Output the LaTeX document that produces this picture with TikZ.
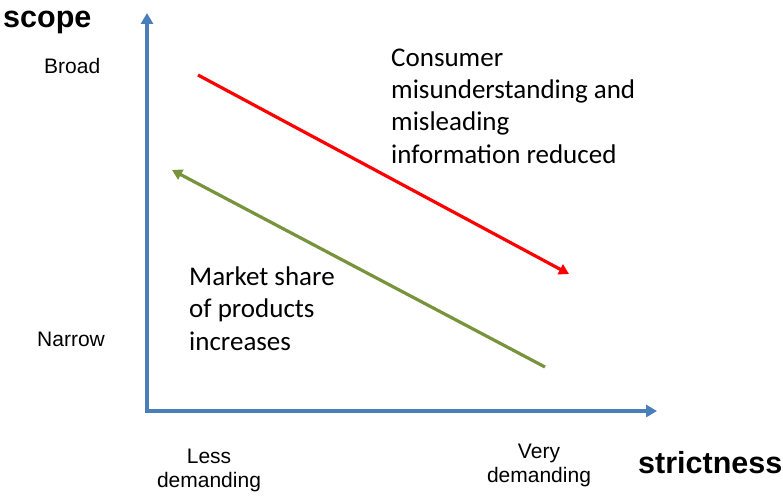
\documentclass[tikz,border=0pt]{standalone}
\usepackage{fontspec}
\setmainfont{Liberation Sans}
\newfontfamily\calfont{Carlito}
\usetikzlibrary{arrows.meta}
\definecolor{axisblue}{HTML}{4A7EBB}
\definecolor{arrowgreen}{HTML}{77933C}
\definecolor{arrowred}{HTML}{FF0000}
\tikzset{
  axisline/.style={draw=axisblue, line width=3.5pt, {Triangle[length=11pt,width=12pt]}-{Triangle[length=11pt,width=12pt]}},
  trendarrow/.style={line width=3.2pt, -{Triangle[length=10pt,width=11pt]}},
  axislabel/.style={font=\fontsize{30.5}{32}\selectfont\bfseries, inner sep=0pt},
  ticklabel/.style={font=\fontsize{21}{24}\selectfont, inner sep=0pt},
  bodytext/.style={font=\calfont\fontsize{27}{32.3}\selectfont, inner sep=0pt, align=left}
}
\begin{document}
\begin{tikzpicture}[x=1pt,y=-1pt]
\useasboundingbox (0,0) rectangle (783,495);
\coordinate (ytop) at (147,13);
\coordinate (o) at (147,411);
\coordinate (xend) at (657,411);
\draw[axisline, line join=miter] (ytop) -- (o) -- (xend);

\coordinate (rs) at (198,75);
\coordinate (re) at (569,274);
\draw[trendarrow, draw=arrowred] (rs) -- (re);
\coordinate (gs) at (545,367);
\coordinate (ge) at (172,170);
\draw[trendarrow, draw=arrowgreen] (gs) -- (ge);

\node[axislabel, anchor=base west] (scope) at (3,28) {scope};
\node[axislabel, anchor=base west] (strict) at (638,473) {strictness};
\node[ticklabel, anchor=base west] (broad) at (44,73) {Broad};
\node[ticklabel, anchor=base west] (narrow) at (37,346) {Narrow};
\node[ticklabel, anchor=base, align=center] (less) at (209,487) {Less\\demanding};
\node[ticklabel, anchor=base, align=center] (very) at (539,482) {Very\\demanding};

\node[bodytext, anchor=base west] (cons) at (391,163) {Consumer\\misunderstanding and\\misleading\\information reduced};
\node[bodytext, anchor=base west] (market) at (189,350) {Market share\\of products\\increases};
\end{tikzpicture}
\end{document}
